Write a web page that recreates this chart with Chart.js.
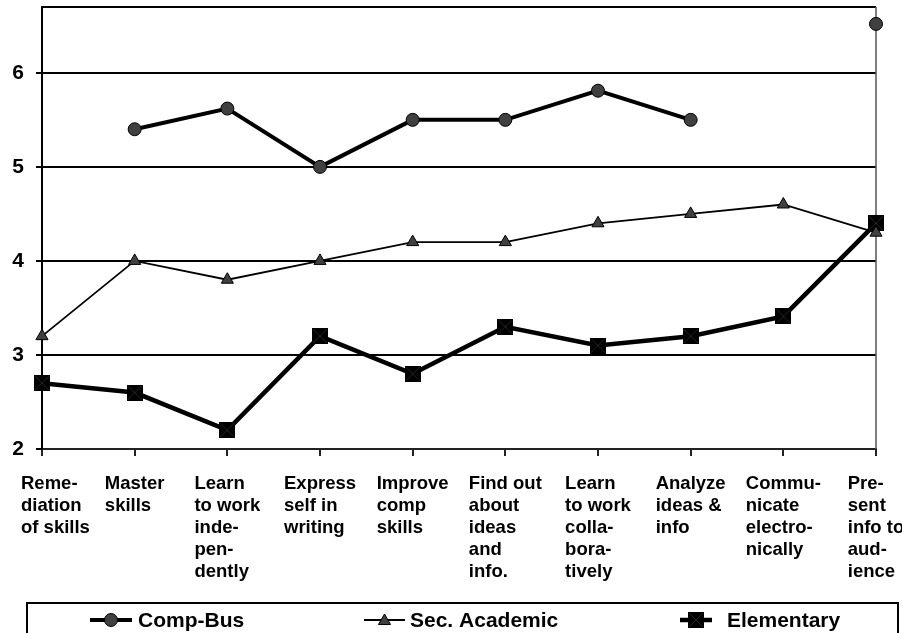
<!DOCTYPE html>
<html>
<head>
<meta charset="utf-8">
<title>Skills by program</title>
<script src="https://cdn.jsdelivr.net/npm/chart.js@4.4.1/dist/chart.umd.min.js"></script>
<style>
  body { margin: 0; background: #fff; }
  canvas { display: block; }
</style>
</head>
<body>
<canvas id="skillsChart" width="902" height="633"></canvas>
<script>
// CATEGORIES (already wrapped the way they are printed)
var x_axis_labels = [
    ['Reme-', 'diation', 'of skills'],
    ['Master', 'skills'],
    ['Learn', 'to work', 'inde-', 'pen-', 'dently'],
    ['Express', 'self in', 'writing'],
    ['Improve', 'comp', 'skills'],
    ['Find out', 'about', 'ideas', 'and', 'info.'],
    ['Learn', 'to work', 'colla-', 'bora-', 'tively'],
    ['Analyze', 'ideas &', 'info'],
    ['Commu-', 'nicate', 'electro-', 'nically'],
    ['Pre-', 'sent', 'info to', 'aud-', 'ience']
];

// SERIES
var data_comp_bus      = [null, 5.4, 5.62, 5.0, 5.5, 5.5, 5.81, 5.5, null, 6.52];
var data_sec_academic  = [3.2, 4.0, 3.8, 4.0, 4.2, 4.2, 4.4, 4.5, 4.6, 4.3];
var data_elementary    = [2.7, 2.6, 2.2, 3.2, 2.8, 3.3, 3.1, 3.2, 3.41, 4.4];

var label_comp_bus     = 'Comp-Bus';
var label_sec_academic = 'Sec. Academic';
var label_elementary   = 'Elementary';

// Y AXIS
var y_axis_ticks = [2, 3, 4, 5, 6];
var y_axis_min   = 2;
var y_axis_max   = 6.7;

var FONT_FAMILY = '"Liberation Sans", Arial, sans-serif';
var MARKER_GRAY = '#404040';

// black square with an x through it, used as the Elementary marker
function makeSquareMarker(size){
    var c = document.createElement('canvas');
    c.width = size;
    c.height = size;
    var g = c.getContext('2d');
    g.fillStyle = '#000';
    g.fillRect(0, 0, size, size);
    g.strokeStyle = '#262626';
    g.lineWidth = 1;
    g.beginPath();
    g.moveTo(1, 1); g.lineTo(size - 1, size - 1);
    g.moveTo(size - 1, 1); g.lineTo(1, size - 1);
    g.stroke();
    return c;
}
var squareMarker = makeSquareMarker(16);

// legend layout: line start, line end, text start
var legend_layout = [
    { x0: 90,  x1: 132, tx: 138 },
    { x0: 364, x1: 405, tx: 410 },
    { x0: 680, x1: 712, tx: 727 }
];

function drawTriangle(ctx, x, y, r){
    ctx.beginPath();
    ctx.moveTo(x, y - r);
    ctx.lineTo(x + r * 0.866, y + r * 0.5);
    ctx.lineTo(x - r * 0.866, y + r * 0.5);
    ctx.closePath();
    ctx.fillStyle = MARKER_GRAY;
    ctx.fill();
    ctx.strokeStyle = '#000';
    ctx.lineWidth = 1;
    ctx.stroke();
}

var frameAndLabels = {
    id: 'frameAndLabels',
    beforeDatasetsDraw: function(chart){
        var ctx = chart.ctx;
        var area = chart.chartArea;
        ctx.save();
        // top and right edges of the plot box
        ctx.strokeStyle = '#000';
        ctx.lineWidth = 2;
        ctx.beginPath();
        ctx.moveTo(area.left, area.top);
        ctx.lineTo(area.right, area.top);
        ctx.stroke();
        ctx.strokeStyle = '#555';
        ctx.lineWidth = 1.5;
        ctx.beginPath();
        ctx.moveTo(area.right, area.top);
        ctx.lineTo(area.right, area.bottom);
        ctx.stroke();
        ctx.restore();
    },
    afterDraw: function(chart){
        var ctx = chart.ctx;
        var area = chart.chartArea;
        var xScale = chart.scales.x;

        ctx.save();
        // ---------- CATEGORY LABELS (block centred on tick, lines left aligned)
        ctx.font = 'bold 18.5px ' + FONT_FAMILY;
        ctx.fillStyle = '#000';
        ctx.textAlign = 'left';
        ctx.textBaseline = 'alphabetic';
        x_axis_labels.forEach(function(lines, i){
            var cx = xScale.getPixelForValue(i);
            var w = 0;
            lines.forEach(function(l){ w = Math.max(w, ctx.measureText(l).width); });
            var left = Math.max(cx - w / 2, 21);
            lines.forEach(function(line, j){
                ctx.fillText(line, left, area.bottom + 40 + j * 22);
            });
        });

        // ---------- LEGEND
        ctx.strokeStyle = '#000';
        ctx.lineWidth = 2;
        ctx.strokeRect(27, 603, 871, 60);

        var ly = 620;
        ctx.font = 'bold 21px ' + FONT_FAMILY;
        ctx.textBaseline = 'middle';
        chart.data.datasets.forEach(function(ds, i){
            var lay = legend_layout[i];
            var mid = (lay.x0 + lay.x1) / 2;
            ctx.strokeStyle = '#000';
            ctx.lineWidth = ds.borderWidth;
            ctx.beginPath();
            ctx.moveTo(lay.x0, ly);
            ctx.lineTo(lay.x1, ly);
            ctx.stroke();
            if (i === 0){
                ctx.beginPath();
                ctx.arc(mid, ly, 6.5, 0, Math.PI * 2);
                ctx.fillStyle = MARKER_GRAY;
                ctx.fill();
                ctx.lineWidth = 1;
                ctx.stroke();
            } else if (i === 1){
                drawTriangle(ctx, mid, ly + 1, 7);
            } else {
                ctx.drawImage(squareMarker, mid - 8, ly - 8);
            }
            ctx.fillStyle = '#000';
            ctx.fillText(ds.label, lay.tx, ly + 1);
        });
        ctx.restore();
    }
};

var ctx = document.getElementById('skillsChart').getContext('2d');
var skillsChart = new Chart(ctx, {
    type: 'line',
    data: {
        labels: x_axis_labels.map(function(l){ return l.join(' '); }),
        datasets: [{
            label: label_comp_bus,
            data: data_comp_bus,
            borderColor: '#000',
            borderWidth: 4,
            pointStyle: 'circle',
            pointRadius: 6.5,
            pointBackgroundColor: MARKER_GRAY,
            pointBorderColor: '#000',
            pointBorderWidth: 1,
            spanGaps: false,
            clip: false
        },
        {
            label: label_sec_academic,
            data: data_sec_academic,
            borderColor: '#000',
            borderWidth: 1.8,
            pointStyle: 'triangle',
            pointRadius: 7,
            pointBackgroundColor: MARKER_GRAY,
            pointBorderColor: '#000',
            pointBorderWidth: 1,
            clip: false
        },
        {
            label: label_elementary,
            data: data_elementary,
            borderColor: '#000',
            borderWidth: 4.5,
            pointStyle: squareMarker,
            pointRadius: 8,
            clip: false
        }]
    },
    options: {
        responsive: false,
        animation: false,
        events: [],
        layout: {
            autoPadding: false,
            padding: { top: 7, right: 26, left: 0, bottom: 0 }
        },
        plugins: {
            legend: { display: false },
            tooltip: { enabled: false }
        },
        elements: {
            line: { tension: 0 }
        },
        scales: {
            x: {
                offset: false,
                grid: {
                    display: true,
                    drawOnChartArea: false,
                    drawTicks: true,
                    tickLength: 7,
                    color: '#222',
                    lineWidth: 2
                },
                border: { display: true, color: '#222', width: 2 },
                ticks: { display: false },
                afterFit: function(scale){ scale.height = 633 - 449; }
            },
            y: {
                min: y_axis_min,
                max: y_axis_max,
                afterBuildTicks: function(scale){
                    scale.ticks = y_axis_ticks.map(function(v){ return { value: v }; });
                },
                grid: {
                    color: '#000',
                    lineWidth: 2,
                    drawTicks: true,
                    tickLength: 6
                },
                border: { display: true, color: '#000', width: 2 },
                ticks: {
                    color: '#000',
                    padding: 12,
                    font: { family: FONT_FAMILY, size: 21, weight: 'bold' }
                },
                afterFit: function(scale){
                    scale.width = 42;
                    // no extra room for half a tick label above the plot
                    scale.paddingTop = 0;
                    scale.paddingBottom = 0;
                }
            }
        }
    },
    plugins: [frameAndLabels]
});
</script>
</body>
</html>
